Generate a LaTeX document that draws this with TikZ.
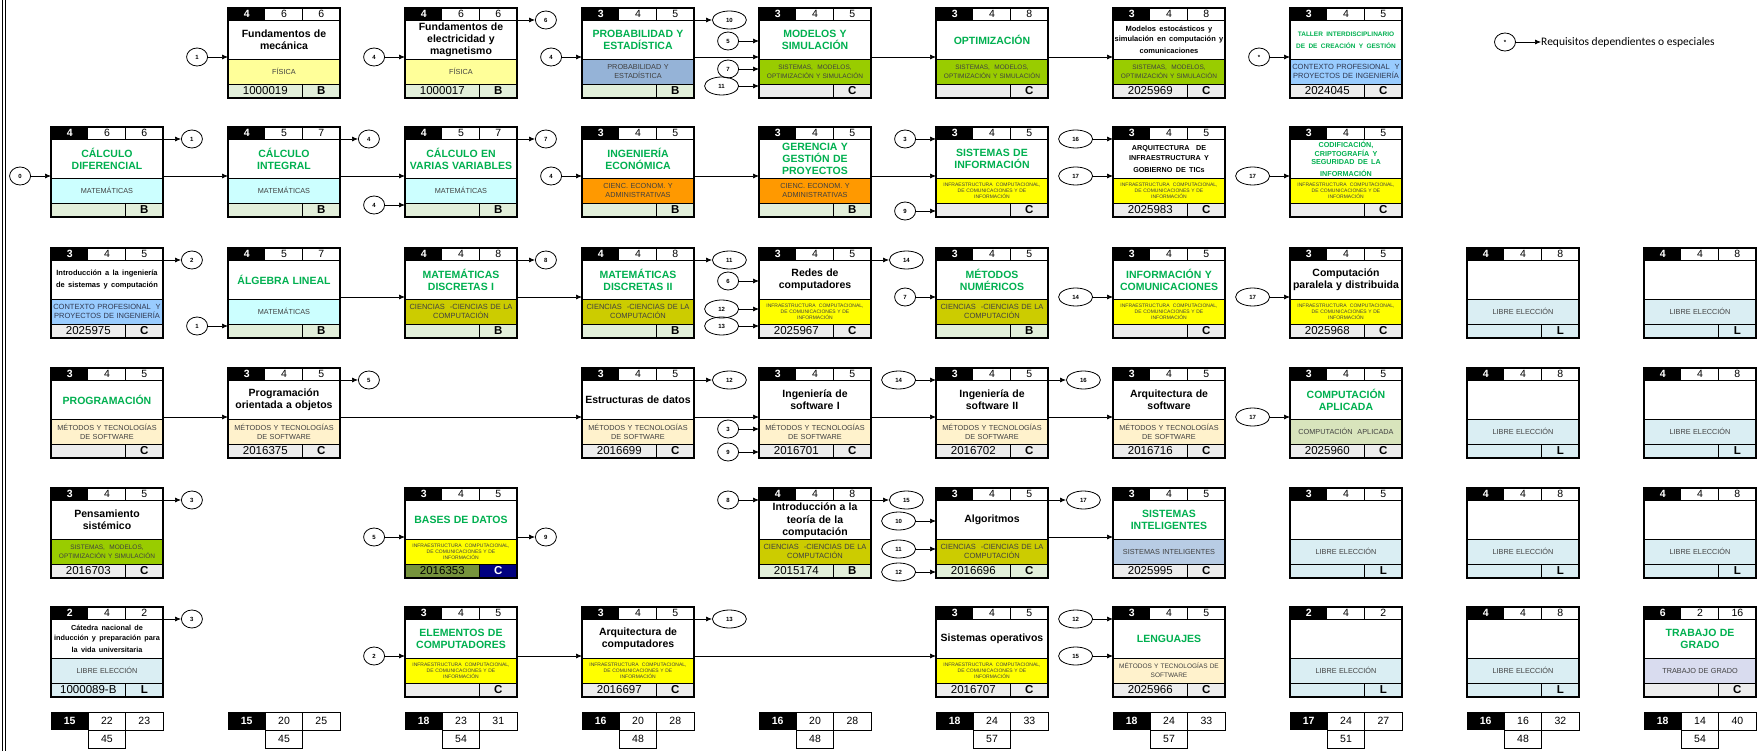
\documentclass[tikz,border=0pt]{standalone}
\usepackage{fontspec}
\setmainfont{Liberation Sans}
\newfontfamily\calibri{Carlito}
\usetikzlibrary{arrows.meta,positioning,shapes.geometric}

\definecolor{verde}{HTML}{00B050}
\definecolor{fisica}{HTML}{FFFF99}
\definecolor{mate}{HTML}{CCFFFF}
\definecolor{proba}{HTML}{95B3D7}
\definecolor{smos}{HTML}{99CC00}
\definecolor{contexto}{HTML}{99CCFF}
\definecolor{econ}{HTML}{FF9900}
\definecolor{infra}{HTML}{FFFF00}
\definecolor{ciencias}{HTML}{CCCC00}
\definecolor{libre}{HTML}{DAEEF3}
\definecolor{metodos}{HTML}{FFF2CC}
\definecolor{capl}{HTML}{D8E4BC}
\definecolor{sint}{HTML}{B8CCE4}
\definecolor{tdg}{HTML}{D9DCEF}
\definecolor{filab}{HTML}{E2EFDA}
\definecolor{filac}{HTML}{EDEDED}
\definecolor{bdcod}{HTML}{76933C}
\definecolor{bdlet}{HTML}{000080}
\definecolor{gristxt}{HTML}{404040}
\definecolor{azultxt}{HTML}{303850}

% fuentes
\newcommand\tverde{\color{verde}\fontsize{10.5}{12.5}\selectfont\bfseries}
\newcommand\tnegro{\fontsize{10.5}{12.5}\selectfont\bfseries}
\newcommand\tpeq{\fontsize{7.5}{9.5}\selectfont\bfseries}
\newcommand\tcated{\fontsize{7.3}{9.8}\selectfont\bfseries}
\newcommand\tarq{\fontsize{7.2}{10}\selectfont\bfseries}
\newcommand\ttaller{\color{verde}\fontsize{6.5}{9.5}\selectfont\bfseries}
\newcommand\tcripto{\color{verde}\fontsize{7.2}{8.7}\selectfont\bfseries}
\newcommand\fcat{\fontsize{7.3}{9}\selectfont}
\newcommand\fcatg{\fontsize{7.5}{9.7}\selectfont}
\newcommand\fcatm{\fontsize{6.5}{9}\selectfont}
\newcommand\fcatinf{\fontsize{5}{6.2}\selectfont}
\newcommand\fcred{\fontsize{10.5}{12}\selectfont}
\newcommand\fcod{\fontsize{11.5}{12}\selectfont}
\newcommand\freq{\fontsize{6}{6}\selectfont\bfseries}

% textos de las areas
\newcommand\catafis{FÍSICA}
\newcommand\catamat{MATEMÁTICAS}
\newcommand\catapye{PROBABILIDAD Y\\ESTADÍSTICA}
\newcommand\catasmo{SISTEMAS,\ \ MODELOS,\\OPTIMIZACIÓN Y SIMULACIÓN}
\newcommand\catacpi{CONTEXTO PROFESIONAL\ \ Y\\PROYECTOS DE INGENIERÍA}
\newcommand\cataeco{CIENC. ECONOM. Y\\ADMINISTRATIVAS}
\newcommand\catainf{INFRAESTRUCTURA\ \ COMPUTACIONAL,\\DE COMUNICACIONES Y DE\\INFORMACIÓN}
\newcommand\catacien{CIENCIAS\ \ -CIENCIAS DE LA\\COMPUTACIÓN}
\newcommand\catalib{LIBRE ELECCIÓN}
\newcommand\catamet{MÉTODOS Y TECNOLOGÍAS\\DE SOFTWARE}
\newcommand\catametb{MÉTODOS Y TECNOLOGÍAS DE\\SOFTWARE}
\newcommand\catacap{COMPUTACIÓN\ \ APLICADA}
\newcommand\catasin{SISTEMAS INTELIGENTES}
\newcommand\catatdg{TRABAJO DE GRADO}

\tikzset{
  marco/.style={draw, line width=1.8pt, anchor=north west, minimum width=112pt,
    minimum height=90pt, inner sep=0pt, outer sep=0pt},
  linea/.style={line width=0.6pt},
  flecha/.style={->, line width=0.7pt},
  cred/.style={inner sep=0pt, font=\fcred},
  titulo/.style={inner sep=0pt, text width=112pt, align=center},
  area/.style={inner sep=0pt, minimum width=112pt, minimum height=25pt,
    text width=110pt, align=center, text=gristxt, font=\fcat},
  celda/.style={inner sep=0pt, minimum height=14pt, font=\fcod},
  pie/.style={inner sep=0pt, font=\fcred},
  req/.style={ellipse, draw, line width=0.8pt, minimum width=21pt,
    minimum height=18pt, inner sep=0pt, font=\freq},
  reqw/.style={minimum width=34pt},
  afis/.style={fill=fisica}, amat/.style={fill=mate}, apye/.style={fill=proba},
  asmo/.style={fill=smos, font=\fcatm}, acpi/.style={fill=contexto, font=\fcatg, text=azultxt},
  aeco/.style={fill=econ}, ainf/.style={fill=infra, font=\fcatinf},
  acien/.style={fill=ciencias, font=\fcatg}, alib/.style={fill=libre},
  amet/.style={fill=metodos}, ametb/.style={fill=metodos, font=\fcatm},
  acap/.style={fill=capl}, asin/.style={fill=sint}, atdg/.style={fill=tdg},
  fb/.style={fill=filab}, fbL/.style={fill=filab},
  fc/.style={fill=filac}, fcL/.style={fill=filac},
  fl/.style={fill=libre}, flL/.style={fill=libre},
  fbd/.style={fill=bdcod}, fbdL/.style={fill=bdlet, text=white},
}

\def\leercred#1/#2/#3\relax{\def\credA{#1}\def\credB{#2}\def\credC{#3}}

% #1 nombre, #2 x, #3 y, #4 creditos, #5 titulo, #6 area, #7 codigo, #8 tipo, #9 fila
\newcommand{\curso}[9]{%
  \leercred#4\relax
  \fill[white] (#2,#3) rectangle ++(112,90);
  \fill[black] (#2,#3) rectangle ++(37.33,12);
  \node[cred, text=white, font=\fcred\bfseries] (#1-c1) at ({#2+18.67},{#3+6}) {\credA};
  \node[cred] (#1-c2) at ({#2+56},{#3+6}) {\credB};
  \node[cred] (#1-c3) at ({#2+93.33},{#3+6}) {\credC};
  \node[titulo] (#1-t) at ({#2+56},{#3+32}) {#5};
  \node[area,#6] (#1-a) at ({#2+56},{#3+63.5}) {\csname cat#6\endcsname};
  \node[celda,#9,minimum width=74.67pt] (#1-cod) at ({#2+37.33},{#3+83}) {#7};
  \node[celda,#9L,minimum width=37.33pt,font=\fcod\bfseries] (#1-let) at ({#2+93.33},{#3+83}) {#8};
  \draw[linea] (#2,{#3+12}) -- ++(112,0)
    ({#2+74.67},#3) -- ++(0,12)
    (#2,{#3+51}) -- ++(112,0)
    (#2,{#3+76}) -- ++(112,0)
    ({#2+74.67},{#3+76}) -- ++(0,14);
  \node[marco] (#1) at (#2,#3) {};
  \coordinate (#1-wh) at (#2,{#3+12});
  \coordinate (#1-wt) at (#2,{#3+33});
  \coordinate (#1-wm) at (#2,{#3+49});
  \coordinate (#1-wc) at (#2,{#3+61});
  \coordinate (#1-wb) at (#2,{#3+78});
  \coordinate (#1-wz) at (#2,{#3+84});
  \coordinate (#1-eh) at ({#2+112},{#3+12});
  \coordinate (#1-em) at ({#2+112},{#3+49});
}

% requisitos: entrada por la izquierda, salida por la derecha
\newcommand{\pre}[3][]{\node[req,#1,left=20pt of #2] (#2-req) {#3};
  \draw[flecha] (#2-req) -- (#2);}
\newcommand{\post}[3][]{\node[req,#1,right=18pt of #2] (#2-req) {#3};
  \draw[flecha] (#2) -- (#2-req);}

% totales por semestre
\newcommand{\totales}[6]{%
  \fill[black] (#2,712) rectangle ++(37.33,18);
  \node[pie, text=white, font=\fcred\bfseries] (#1-a) at ({#2+18.67},721) {#3};
  \draw[linea] ({#2+37.33},712) rectangle ({#2+112},730)
    ({#2+74.67},712) -- ({#2+74.67},730)
    ({#2+37.33},730) rectangle ({#2+74.67},748);
  \node[pie] (#1-b) at ({#2+56},721) {#4};
  \node[pie] (#1-c) at ({#2+93.33},721) {#5};
  \node[pie] (#1-t) at ({#2+56},739) {#6};
}

\begin{document}
\begin{tikzpicture}[x=1pt, y=-1pt, >={Latex[length=6pt,width=5pt]}]
\useasboundingbox (0,0) rectangle (1764,751);
\draw[line width=0.8pt] (2,0) -- (2,751) (5.5,0) -- (5.5,751);

% fila 1
\curso{fmec}{228}{8}{4/6/6}{\tnegro Fundamentos de\\mecánica}{afis}{1000019}{B}{fb}
\curso{felec}{405}{8}{4/6/6}{\tnegro Fundamentos de\\electricidad y\\magnetismo}{afis}{1000017}{B}{fb}
\curso{prob}{582}{8}{3/4/5}{\tverde PROBABILIDAD Y\\ESTADÍSTICA}{apye}{}{B}{fb}
\curso{modsim}{759}{8}{3/4/5}{\tverde MODELOS Y\\SIMULACIÓN}{asmo}{}{C}{fc}
\curso{optim}{936}{8}{3/4/8}{\tverde OPTIMIZACIÓN}{asmo}{}{C}{fc}
\curso{modest}{1113}{8}{3/4/8}{\tpeq Modelos estocásticos y\\simulación en computación y\\comunicaciones}{asmo}{2025969}{C}{fc}
\curso{taller}{1290}{8}{3/4/5}{\ttaller TALLER INTERDISCIPLINARIO\\DE DE CREACIÓN Y GESTIÓN}{acpi}{2024045}{C}{fc}

% fila 2
\curso{cdif}{51}{127}{4/6/6}{\tverde CÁLCULO\\DIFERENCIAL}{amat}{}{B}{fb}
\curso{cint}{228}{127}{4/5/7}{\tverde CÁLCULO\\INTEGRAL}{amat}{}{B}{fb}
\curso{cvar}{405}{127}{4/5/7}{\tverde CÁLCULO EN\\VARIAS VARIABLES}{amat}{}{B}{fb}
\curso{ingeco}{582}{127}{3/4/5}{\tverde INGENIERÍA\\ECONÓMICA}{aeco}{}{B}{fb}
\curso{gerencia}{759}{127}{3/4/5}{\tverde GERENCIA Y\\GESTIÓN DE\\PROYECTOS}{aeco}{}{B}{fb}
\curso{sisinf}{936}{127}{3/4/5}{\tverde SISTEMAS DE\\INFORMACIÓN}{ainf}{}{C}{fc}
\curso{arqinf}{1113}{127}{3/4/5}{\tarq ARQUITECTURA\ \ DE\\INFRAESTRUCTURA Y\\GOBIERNO DE TICs}{ainf}{2025983}{C}{fc}
\curso{cripto}{1290}{127}{3/4/5}{\tcripto CODIFICACIÓN,\\CRIPTOGRAFÍA Y\\SEGURIDAD DE LA\\INFORMACIÓN}{ainf}{}{C}{fc}

% fila 3
\curso{intro}{51}{248}{3/4/5}{\tpeq Introducción a la ingeniería\\de sistemas y computación}{acpi}{2025975}{C}{fc}
\curso{algebra}{228}{248}{4/5/7}{\tverde ÁLGEBRA LINEAL}{amat}{}{B}{fb}
\curso{discI}{405}{248}{4/4/8}{\tverde MATEMÁTICAS\\DISCRETAS I}{acien}{}{B}{fb}
\curso{discII}{582}{248}{4/4/8}{\tverde MATEMÁTICAS\\DISCRETAS II}{acien}{}{B}{fb}
\curso{redes}{759}{248}{3/4/5}{\tnegro Redes de\\computadores}{ainf}{2025967}{C}{fc}
\curso{metnum}{936}{248}{3/4/5}{\tverde MÉTODOS\\NUMÉRICOS}{acien}{}{B}{fb}
\curso{infcom}{1113}{248}{3/4/5}{\tverde INFORMACIÓN Y\\COMUNICACIONES}{ainf}{}{C}{fc}
\curso{paralela}{1290}{248}{3/4/5}{\tnegro Computación\\paralela y distribuida}{ainf}{2025968}{C}{fc}
\curso{libA}{1467}{248}{4/4/8}{}{alib}{}{L}{fl}
\curso{libB}{1644}{248}{4/4/8}{}{alib}{}{L}{fl}

% fila 4
\curso{prog}{51}{368}{3/4/5}{\tverde PROGRAMACIÓN}{amet}{}{C}{fc}
\curso{poo}{228}{368}{3/4/5}{\tnegro Programación\\orientada a objetos}{amet}{2016375}{C}{fc}
\curso{estruc}{582}{368}{3/4/5}{\tnegro Estructuras de datos}{amet}{2016699}{C}{fc}
\curso{isw1}{759}{368}{3/4/5}{\tnegro Ingeniería de\\software I}{amet}{2016701}{C}{fc}
\curso{isw2}{936}{368}{3/4/5}{\tnegro Ingeniería de\\software II}{amet}{2016702}{C}{fc}
\curso{arqsw}{1113}{368}{3/4/5}{\tnegro Arquitectura de\\software}{amet}{2016716}{C}{fc}
\curso{compap}{1290}{368}{3/4/5}{\tverde COMPUTACIÓN\\APLICADA}{acap}{2025960}{C}{fc}
\curso{libC}{1467}{368}{4/4/8}{}{alib}{}{L}{fl}
\curso{libD}{1644}{368}{4/4/8}{}{alib}{}{L}{fl}

% fila 5
\curso{pensa}{51}{488}{3/4/5}{\tnegro Pensamiento\\sistémico}{asmo}{2016703}{C}{fc}
\curso{bd}{405}{488}{3/4/5}{\tverde BASES DE DATOS}{ainf}{2016353}{C}{fbd}
\curso{teoria}{759}{488}{4/4/8}{\tnegro Introducción a la\\teoría de la\\computación}{acien}{2015174}{B}{fb}
\curso{algo}{936}{488}{3/4/5}{\tnegro Algoritmos}{acien}{2016696}{C}{fb}
\curso{sisint}{1113}{488}{3/4/5}{\tverde SISTEMAS\\INTELIGENTES}{asin}{2025995}{C}{fc}
\curso{libE}{1290}{488}{3/4/5}{}{alib}{}{L}{fl}
\curso{libF}{1467}{488}{4/4/8}{}{alib}{}{L}{fl}
\curso{libG}{1644}{488}{4/4/8}{}{alib}{}{L}{fl}

% fila 6
\curso{catedra}{51}{607}{2/4/2}{\tcated Cátedra nacional de\\inducción y preparación para\\la vida universitaria}{alib}{1000089-B}{L}{fl}
\curso{elem}{405}{607}{3/4/5}{\tverde ELEMENTOS DE\\COMPUTADORES}{ainf}{}{C}{fc}
\curso{arqcomp}{582}{607}{3/4/5}{\tnegro Arquitectura de\\computadores}{ainf}{2016697}{C}{fc}
\curso{sisop}{936}{607}{3/4/5}{\tnegro Sistemas operativos}{ainf}{2016707}{C}{fc}
\curso{lengua}{1113}{607}{3/4/5}{\tverde LENGUAJES}{ametb}{2025966}{C}{fc}
\curso{libH}{1290}{607}{2/4/2}{}{alib}{}{L}{fl}
\curso{libI}{1467}{607}{4/4/8}{}{alib}{}{L}{fl}
\curso{tg}{1644}{607}{6/2/16}{\tverde TRABAJO DE\\GRADO}{atdg}{}{C}{fc}

% secuencias
\draw[flecha] (prob-em) -- (modsim-wm);
\draw[flecha] (modsim-em) -- (optim-wm);
\draw[flecha] (optim-em) -- (modest-wm);
\draw[flecha] (cdif-em) -- (cint-wm);
\draw[flecha] (cint-em) -- (cvar-wm);
\draw[flecha] (ingeco-em) -- (gerencia-wm);
\draw[flecha] (gerencia-em) -- (sisinf-wm);
\draw[flecha] (algebra-em) -- (discI-wm);
\draw[flecha] (discI-em) -- (discII-wm);
\draw[flecha] (prog-em) -- (poo-wm);
\draw[flecha] (poo-em) -- (estruc-wm);
\draw[flecha] (estruc-em) -- (isw1-wm);
\draw[flecha] (isw1-em) -- (isw2-wm);
\draw[flecha] (isw2-em) -- (arqsw-wm);
\draw[flecha] (algo-em) -- (sisint-wm);
\draw[flecha] (elem-em) -- (arqcomp-wm);
\draw[flecha] (arqcomp-em) -- (sisop-wm);

% requisitos
\pre{fmec-wm}{1}
\pre{felec-wm}{4} \post{felec-eh}{6}
\pre{prob-wm}{4} \post[reqw]{prob-eh}{10}
\pre{modsim-wt}{5} \pre{modsim-wc}{7} \pre[reqw]{modsim-wb}{11}
\pre{taller-wm}{*}
\pre{cdif-wm}{0} \post{cdif-eh}{1}
\post{cint-eh}{4}
\pre{cvar-wb}{4} \post{cvar-eh}{7}
\pre{ingeco-wm}{4}
\pre{sisinf-wh}{3} \pre{sisinf-wz}{9}
\pre[reqw]{arqinf-wh}{16} \pre[reqw]{arqinf-wm}{17}
\pre[reqw]{cripto-wm}{17}
\post{intro-eh}{2}
\pre{algebra-wb}{1}
\post{discI-eh}{8}
\post[reqw]{discII-eh}{11}
\pre{redes-wt}{6} \pre[reqw]{redes-wc}{12} \pre[reqw]{redes-wb}{13} \post[reqw]{redes-eh}{14}
\pre{metnum-wm}{7}
\pre[reqw]{infcom-wm}{14}
\pre[reqw]{paralela-wm}{17}
\post{poo-eh}{5}
\post[reqw]{estruc-eh}{12}
\pre{isw1-wc}{3} \pre{isw1-wz}{9}
\pre[reqw]{isw2-wh}{14} \post[reqw]{isw2-eh}{16}
\pre[reqw]{compap-wm}{17}
\post{pensa-eh}{3}
\pre{bd-wm}{5} \post{bd-em}{9}
\pre{teoria-wh}{8} \post[reqw]{teoria-eh}{15}
\pre[reqw]{algo-wt}{10} \pre[reqw]{algo-wc}{11} \pre[reqw]{algo-wz}{12} \post[reqw]{algo-eh}{17}
\post{catedra-eh}{3}
\pre{elem-wm}{2}
\post[reqw]{arqcomp-eh}{13}
\pre[reqw]{lengua-wh}{12} \pre[reqw]{lengua-wm}{15}

% leyenda
\node[req] (ley) at (1505,42) {*};
\node[anchor=west, inner sep=0pt, font=\calibri\fontsize{11.5}{13}\selectfont] (leytexto) at (1541,42) {Requisitos dependientes o especiales};
\draw[flecha] (ley) -- (leytexto);

% totales
\totales{s1}{51}{15}{22}{23}{45}
\totales{s2}{228}{15}{20}{25}{45}
\totales{s3}{405}{18}{23}{31}{54}
\totales{s4}{582}{16}{20}{28}{48}
\totales{s5}{759}{16}{20}{28}{48}
\totales{s6}{936}{18}{24}{33}{57}
\totales{s7}{1113}{18}{24}{33}{57}
\totales{s8}{1290}{17}{24}{27}{51}
\totales{s9}{1467}{16}{16}{32}{48}
\totales{s10}{1644}{18}{14}{40}{54}
\end{tikzpicture}
\end{document}
